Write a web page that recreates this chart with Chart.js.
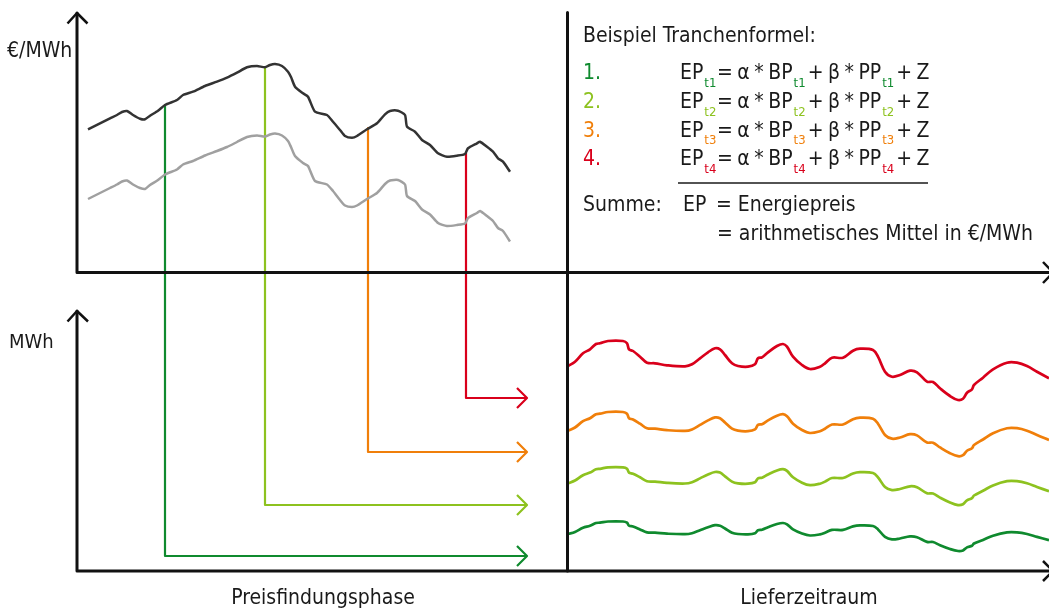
<!DOCTYPE html>
<html>
<head>
<meta charset="utf-8">
<script src="https://cdn.jsdelivr.net/npm/chart.js@4.4.1/dist/chart.umd.min.js"></script>
<style>
    body { margin: 0; background: #ffffff; }
    #wrap { position: relative; width: 1049px; height: 609px; overflow: hidden; }
    #chart { position: absolute; left: 0; top: 0; }
    .lbl {
        position: absolute;
        white-space: nowrap;
        line-height: 1;
        font-family: "DejaVu Sans Condensed", "DejaVu Sans", sans-serif;
        font-stretch: condensed;
        color: #1a1a1a;
    }
    .tight { word-spacing: -1.5px; }
</style>
</head>
<body>
<div id="wrap">
    <canvas id="chart" width="1049" height="609"></canvas>
</div>
<script>
// Colors of the four tranches (1 = first purchase ... 4 = last purchase)
const trancheColors = ['#0f8a2e', '#8dc21f', '#f07f0a', '#d9001b'];

// Price curves in the price finding phase (schematic units, x = time, y = price level)
const priceX = [88, 100, 110, 117, 122, 127, 133, 140, 145, 150, 158, 165, 177, 183, 193, 205, 217, 227, 237, 247,
    257, 265, 270, 275, 282, 288, 291, 295, 303, 308, 315, 327, 333, 340, 345, 352, 357, 367, 377, 385,
    390, 398, 405, 407, 415, 422, 430, 438, 447, 457, 465, 468, 477, 480, 487, 493, 498, 503, 510];
const priceDark = [129.3, 123.3, 118.3, 115, 112, 111, 115, 118.7, 119.3, 115.7, 110.7, 105, 100, 95, 91.7, 86, 81.7, 77.7, 72.7, 67.3,
    66, 67.3, 65, 64, 66, 71.7, 77, 86.7, 93.3, 96.7, 111.7, 115, 121.7, 130, 136, 137.7, 136, 129.3, 123.3, 114.3,
    111, 110.7, 115, 126.7, 131.7, 140, 145, 153.3, 156.7, 155.7, 154, 148.3, 143.3, 141.7, 146.7, 151.7, 158.3, 161.7, 171.7];
const priceLight = [199, 193, 188, 184.5, 181.5, 180.5, 184.5, 188, 189, 185, 180, 174.5, 169.5, 164.5, 161, 155.5, 151, 147, 142, 137,
    135.5, 136.5, 134.5, 133.5, 135.5, 141, 147, 156, 163, 166, 181, 184.5, 191, 200, 205.5, 207, 205.5, 199, 193, 184,
    180.5, 180, 184.5, 196, 201, 209.5, 214.5, 223, 226, 225, 223.5, 218, 213, 211, 216, 221, 228, 231, 241.5];

// Purchase moments: time of each tranche, price at that moment, level of its arrow
const trancheX = [165, 265, 368, 466];
const tranchePrice = [105, 67, 128, 153];
const trancheArrowY = [556, 505, 452, 398];
const arrowEndX = 527;

// Load profiles in the delivery period (one per tranche)
const loadX = [568, 575, 583, 590, 596, 600, 608, 623, 627, 629, 633, 640, 647, 655, 667, 685, 692, 700, 708, 715,
    720, 725, 732, 738, 748, 755, 758, 762, 768, 777, 783, 787, 793, 802, 810, 820, 825, 832, 843, 853,
    860, 873, 878, 885, 892, 900, 910, 917, 927, 933, 940, 950, 958, 963, 967, 972, 974, 983, 993, 1007,
    1017, 1027, 1037, 1049];
const load4 = [366, 361.7, 353.3, 349.3, 344, 343.3, 341, 341, 343.3, 349.3, 351, 356.7, 362.7, 363.3, 365.3, 366.3, 364.3, 358.3, 352.3, 348.3,
    349.3, 355, 363.3, 366, 366.7, 364.3, 358.3, 357.3, 352.3, 346, 344, 346.7, 356.7, 365, 369, 366.7, 363.3, 357.7, 357.7, 350.7,
    348.7, 350, 356.7, 371.7, 376.7, 375, 370.7, 372.3, 381.7, 382, 388.3, 396, 400, 398.7, 392.7, 389.3, 385, 377.7, 369.3, 362.7,
    362.7, 366, 371.7, 378.3];
const load3 = [430.7, 427.5, 421.2, 418.2, 414.2, 413.7, 412, 412, 413.7, 418.2, 419.5, 423.7, 428.2, 428.7, 430.2, 430.9, 429.4, 424.9, 420.4, 417.4,
    418.2, 422.5, 428.7, 430.7, 431.2, 429.4, 424.9, 424.2, 420.4, 415.7, 414.2, 416.2, 423.7, 430, 433, 431.2, 428.7, 424.5, 424.5, 419.2,
    417.7, 418.7, 423.7, 435, 438.7, 437.5, 434.2, 435.4, 442.5, 442.7, 447.4, 453.2, 456.2, 455.2, 450.7, 448.2, 445, 439.5, 433.2, 428.2,
    428.2, 430.7, 435, 439.9];
const load2 = [483.3, 480.5, 475.2, 472.6, 469.2, 468.8, 467.3, 467.3, 468.8, 472.6, 473.7, 477.3, 481.2, 481.6, 482.9, 483.5, 482.2, 478.4, 474.5, 472,
    472.6, 476.3, 481.6, 483.3, 483.7, 482.2, 478.4, 477.7, 474.5, 470.5, 469.2, 470.9, 477.3, 482.7, 485.2, 483.7, 481.6, 478, 478, 473.5,
    472.2, 473, 477.3, 487, 490.1, 489, 486.3, 487.3, 493.3, 493.5, 497.6, 502.5, 505.1, 504.2, 500.4, 498.2, 495.5, 490.8, 485.4, 481.2,
    481.2, 483.3, 487, 491.2];
const load1 = [534, 531.9, 527.7, 525.7, 523, 522.7, 521.5, 521.5, 522.7, 525.7, 526.5, 529.4, 532.4, 532.7, 533.7, 534.2, 533.2, 530.2, 527.2, 525.2,
    525.7, 528.5, 532.7, 534, 534.4, 533.2, 530.2, 529.7, 527.2, 524, 523, 524.4, 529.4, 533.5, 535.5, 534.4, 532.7, 529.9, 529.9, 526.4,
    525.4, 526, 529.4, 536.9, 539.4, 538.5, 536.4, 537.2, 541.9, 542, 545.2, 549, 551, 550.4, 547.4, 545.7, 543.5, 539.9, 535.7, 532.4,
    532.4, 534, 536.9, 540.2];

// Axes of the two panels and the divider between the phases
const axisTop = [[77, 13], [77, 272.5], [1053, 272.5]];
const axisTopArrows = [[[67.5, 23.5], [77, 13], [87.5, 23.5]], [[1043, 262], [1053, 272.5], [1043, 283]]];
const axisBottom = [[77, 311], [77, 571], [1053, 571]];
const axisBottomArrows = [[[67.5, 321.5], [77, 311], [88, 321.5]], [[1043, 561], [1053, 571], [1043, 581]]];
const divider = [[567.5, 12.5], [567.5, 571]];
const formulaRule = [[678, 183], [928, 183]];

function pts(xs, ys) {
    return xs.map((x, i) => ({ x: x, y: ys[i] }));
}

function pairs(list) {
    return list.map(p => ({ x: p[0], y: p[1] }));
}

function line(data, color, width, tension) {
    return {
        data: data,
        showLine: true,
        borderColor: color,
        borderWidth: width,
        pointRadius: 0,
        tension: tension || 0,
        fill: false,
        borderCapStyle: 'butt',
        borderJoinStyle: 'round'
    };
}

const datasets = [];
// axes
datasets.push(line(pairs(axisTop), '#111111', 3));
datasets.push(line(pairs(axisBottom), '#111111', 3));
datasets.push(line(pairs(divider), '#111111', 3));
axisTopArrows.concat(axisBottomArrows).forEach(a => datasets.push(line(pairs(a), '#111111', 2.5)));

// price curves
datasets.push(line(pts(priceX, priceLight), '#a0a0a0', 2.5, 0.2));
datasets.push(line(pts(priceX, priceDark), '#333333', 2.5, 0.2));

// tranche paths: from the price curve down, then right into the delivery period
for (let i = 0; i < trancheX.length; i++) {
    const c = trancheColors[i];
    const y = trancheArrowY[i];
    datasets.push(line(pairs([[trancheX[i], tranchePrice[i]], [trancheX[i], y], [arrowEndX, y]]), c, 2.2));
    datasets.push(line(pairs([[arrowEndX - 10, y - 10], [arrowEndX, y], [arrowEndX - 10, y + 10]]), c, 2.2));
}

// load profiles
const loads = [load1, load2, load3, load4];
loads.forEach((ys, i) => datasets.push(line(pts(loadX, ys), trancheColors[i], 2.7, 0.35)));

// line under the formulas
datasets.push(line(pairs(formulaRule), '#1a1a1a', 1.5));

const ctx = document.getElementById('chart');
const diagram = new Chart(ctx, {
    type: 'scatter',
    data: { datasets: datasets },
    options: {
        responsive: false,
        animation: false,
        events: [],
        layout: { padding: 0 },
        plugins: { legend: { display: false }, tooltip: { enabled: false } },
        scales: {
            x: { type: 'linear', min: 0, max: 1049, display: false },
            y: { type: 'linear', min: 0, max: 609, reverse: true, display: false }
        }
    }
});

// Texts: put each one on its baseline, returns the right edge of the text
const wrap = document.getElementById('wrap');
function addText(str, x, base, size, color, center, cls) {
    const d = document.createElement('div');
    d.className = 'lbl' + (cls ? ' ' + cls : '');
    d.textContent = str;
    d.style.fontSize = size + 'px';
    d.style.left = x + 'px';
    d.style.top = (base - 0.846 * size) + 'px';
    if (color) d.style.color = color;
    if (center) d.style.transform = 'translateX(-50%)';
    wrap.appendChild(d);
    return x + d.getBoundingClientRect().width;
}

addText('€/MWh', 7, 58, 21);
addText('MWh', 9, 348, 20);
addText('Preisfindungsphase', 323, 605, 21, null, true);
addText('Lieferzeitraum', 809, 605, 21, null, true);
addText('Beispiel Tranchenformel:', 583, 43, 21);

const formulaBase = [80, 109, 137.3, 165.7];
for (let i = 0; i < 4; i++) {
    const b = formulaBase[i];
    const c = trancheColors[i];
    const sub = 't' + (i + 1);
    addText((i + 1) + '.', 583, b, 21, c);
    let end = addText('EP', 680, b, 21);
    addText(sub, end + 1, b + 7, 13, c);
    end = addText('= α * BP', 717, b, 21, null, false, 'tight');
    end = addText(sub, end + 1, b + 7, 13, c);
    end = addText('+ β * PP', end + 2, b, 21, null, false, 'tight');
    end = addText(sub, end + 1, b + 7, 13, c);
    addText('+ Z', end + 2, b, 21, null, false, 'tight');
}

addText('Summe:', 583, 212, 21);
addText('EP', 683, 212, 21);
addText('= Energiepreis', 716, 212, 21);
addText('= arithmetisches Mittel in €/MWh', 717, 241, 21);
</script>
</body>
</html>
